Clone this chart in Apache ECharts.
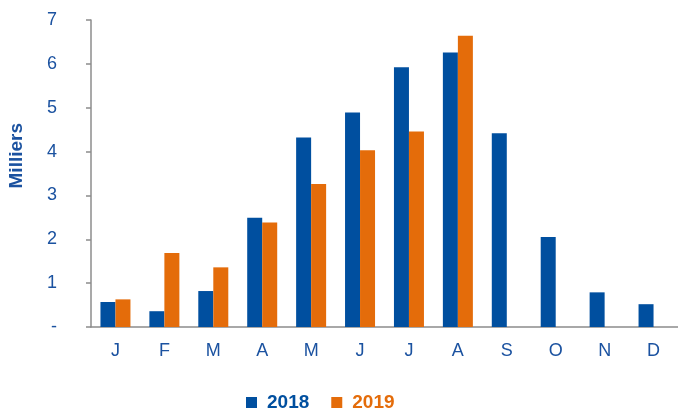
<!DOCTYPE html>
<html>
<head>
<meta charset="utf-8">
<script src="https://cdn.jsdelivr.net/npm/echarts@6/dist/echarts.min.js"></script>
<style>
  html, body { margin: 0; padding: 0; background: #fff; }
  #chart { width: 678px; height: 408px; }
</style>
</head>
<body>
<div id="chart"></div>
<script>
// Monthly volumes, in thousands
const months = ['J', 'F', 'M', 'A', 'M', 'J', 'J', 'A', 'S', 'O', 'N', 'D'];
const values2018 = [0.57, 0.36, 0.82, 2.49, 4.32, 4.89, 5.92, 6.26, 4.42, 2.05, 0.79, 0.52];
const values2019 = [0.63, 1.69, 1.36, 2.38, 3.26, 4.03, 4.46, 6.64, null, null, null, null];
const yTicks = ['-', '1', '2', '3', '4', '5', '6', '7'];

const BLUE = '#004F9F';
const ORANGE = '#E46C0A';
const TEXT = '#1B52A0';
const AXIS = '#8C8C8C';

const chart = echarts.init(document.getElementById('chart'));
chart.setOption({
  animation: false,
  textStyle: { fontFamily: 'Liberation Sans, Arial, sans-serif' },
  grid: { left: 91, top: 20, width: 593, height: 307, containLabel: false },
  legend: {
    left: 241,
    top: 388,
    itemWidth: 11,
    itemHeight: 11,
    itemGap: 22,
    icon: 'rect',
    textStyle: { fontSize: 19, fontWeight: 'bold', padding: [0, 0, 0, 5] },
    data: [
      { name: '2018', textStyle: { color: BLUE } },
      { name: '2019', textStyle: { color: ORANGE } }
    ]
  },
  xAxis: {
    type: 'category',
    data: months,
    axisLine: { lineStyle: { color: AXIS, width: 1.5 } },
    axisTick: { length: 6, lineStyle: { color: AXIS, width: 1.5 } },
    axisLabel: { color: TEXT, fontSize: 18, margin: 15 }
  },
  yAxis: {
    type: 'value',
    min: 0,
    max: 7,
    interval: 1,
    splitLine: { show: false },
    axisLine: { show: true, lineStyle: { color: AXIS, width: 1.5 } },
    axisTick: { show: true, length: 5, lineStyle: { color: AXIS, width: 1.5 } },
    axisLabel: {
      color: TEXT,
      fontSize: 18,
      margin: 34,
      formatter: v => yTicks[v]
    }
  },
  graphic: [{
    type: 'text',
    left: 7,
    top: 123,
    rotation: Math.PI / 2,
    style: {
      text: 'Milliers',
      fill: TEXT,
      font: 'bold 19px Liberation Sans, Arial, sans-serif'
    }
  }],
  series: [
    {
      name: '2018',
      type: 'bar',
      data: values2018,
      barWidth: 15,
      barGap: '0%',
      itemStyle: { color: BLUE }
    },
    {
      name: '2019',
      type: 'bar',
      data: values2019,
      barWidth: 15,
      barGap: '0%',
      itemStyle: { color: ORANGE }
    }
  ]
});
</script>
</body>
</html>
